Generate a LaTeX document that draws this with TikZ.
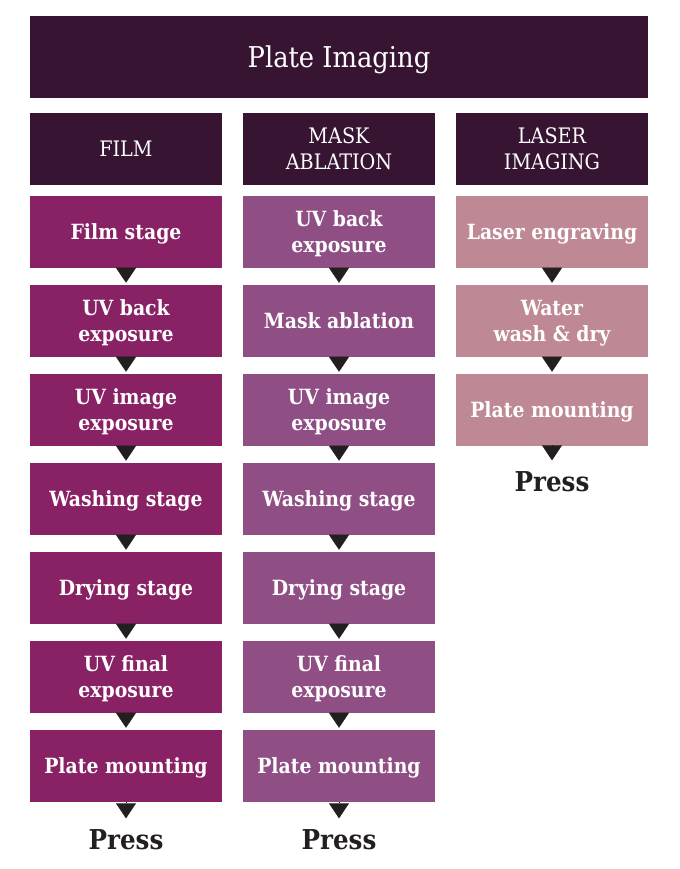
\documentclass[tikz,border=0pt]{standalone}
\usepackage{fontspec}
\setmainfont{DejaVu Serif Condensed}
\usepackage{xcolor}
\usetikzlibrary{
    arrows.meta,
    positioning
}
\definecolor{plDark}{RGB}{54,20,50}
\definecolor{plFilm}{RGB}{137,33,101}
\definecolor{plMask}{RGB}{143,79,133}
\definecolor{plLaser}{RGB}{190,137,148}
\definecolor{plInk}{RGB}{35,31,32}
\tikzset{
  banner/.style  = {fill=plDark, text=white, minimum width=463.5pt,
                    minimum height=61.5pt, align=center, text depth=0pt,
                    font=\fontsize{21.5}{25}\selectfont},
  head/.style    = {fill=plDark, text=white, minimum width=144pt,
                    minimum height=54pt, align=center,
                    font=\fontsize{16}{19.5}\selectfont},
  stage/.style   = {text=white, minimum width=144pt, minimum height=54pt,
                    align=center, inner sep=0pt, text depth=0pt,
                    font=\fontsize{15.7}{19.5}\selectfont\bfseries},
  film/.style    = {stage, fill=plFilm},
  mask/.style    = {stage, fill=plMask},
  laser/.style   = {stage, fill=plLaser},
  press/.style   = {text=plInk, inner sep=0pt,
                    font=\fontsize{20.5}{24}\selectfont\bfseries},
  flow/.style    = {-{Triangle[width=15pt,length=11.25pt]}, plInk,
                    line width=0.1pt, shorten >=1.5pt},
  pflow/.style   = {flow, shorten >=8.5pt}
}

\begin{document}
\begin{tikzpicture}[x=0.75pt, y=-0.75pt]
    \useasboundingbox (0,0) rectangle (680,869);

    \node[banner] (top) at (339,57) {Plate Imaging};

    \node[head] (hFilm)  at (126,149) {FILM};
    \node[head] (hMask)  at (339,149) {MASK\\ABLATION};
    \node[head] (hLaser) at (552,149) {LASER\\IMAGING};

    % film route
    \node[film] (f1) at (126,232) {Film stage};
    \node[film] (f2) at (126,321) {UV back\\exposure};
    \node[film] (f3) at (126,410) {UV image\\exposure};
    \node[film] (f4) at (126,499) {Washing stage};
    \node[film] (f5) at (126,588) {Drying stage};
    \node[film] (f6) at (126,677) {UV final\\exposure};
    \node[film] (f7) at (126,766) {Plate mounting};
    \node[press] (fPress) at (126,840) {Press};

    % mask ablation route
    \node[mask] (m1) at (339,232) {UV back\\exposure};
    \node[mask] (m2) at (339,321) {Mask ablation};
    \node[mask] (m3) at (339,410) {UV image\\exposure};
    \node[mask] (m4) at (339,499) {Washing stage};
    \node[mask] (m5) at (339,588) {Drying stage};
    \node[mask] (m6) at (339,677) {UV final\\exposure};
    \node[mask] (m7) at (339,766) {Plate mounting};
    \node[press] (mPress) at (339,840) {Press};

    % laser route
    \node[laser] (l1) at (552,232) {Laser engraving};
    \node[laser] (l2) at (552,321) {Water\\wash \& dry};
    \node[laser] (l3) at (552,410) {Plate mounting};
    \node[press] (lPress) at (552,482) {Press};

    \draw[flow] (f1) -- (f2);
    \draw[flow] (f2) -- (f3);
    \draw[flow] (f3) -- (f4);
    \draw[flow] (f4) -- (f5);
    \draw[flow] (f5) -- (f6);
    \draw[flow] (f6) -- (f7);
    \draw[pflow] (f7) -- (fPress);

    \draw[flow] (m1) -- (m2);
    \draw[flow] (m2) -- (m3);
    \draw[flow] (m3) -- (m4);
    \draw[flow] (m4) -- (m5);
    \draw[flow] (m5) -- (m6);
    \draw[flow] (m6) -- (m7);
    \draw[pflow] (m7) -- (mPress);

    \draw[flow] (l1) -- (l2);
    \draw[flow] (l2) -- (l3);
    \draw[pflow] (l3) -- (lPress);
  \end{tikzpicture}
\end{document}
